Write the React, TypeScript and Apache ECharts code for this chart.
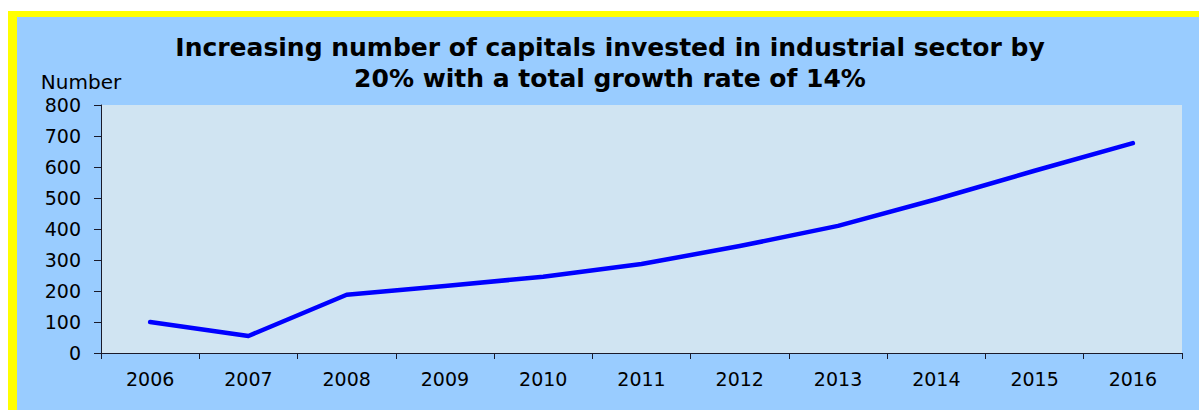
import React, { useEffect, useRef } from "react";
import * as echarts from "echarts";

const years = ["2006", "2007", "2008", "2009", "2010", "2011", "2012", "2013", "2014", "2015", "2016"];
const capitals = [100, 55, 188, 216, 246, 287, 345, 410, 496, 588, 677];
const titleLines = [
  "Increasing number of capitals invested in industrial sector by",
  "20% with a total growth rate of 14%",
];
const yAxisName = "Number";

export default function App() {
  const ref = useRef<HTMLDivElement>(null);
  useEffect(() => {
    if (!ref.current) return;
    const chart = echarts.init(ref.current, null, { renderer: "svg" });
    const axisFont = "DejaVu Sans";
    const titleStyle = { fontFamily: "DejaVu Sans", fontWeight: "bold", fontSize: 25, fill: "#000", align: "center", verticalAlign: "middle" };
    chart.setOption({
      animation: false,
      backgroundColor: "#ffffff",
      graphic: [
        { type: "rect", silent: true, z: -10, shape: { x: 8, y: 11, width: 1191, height: 399 }, style: { fill: "#FFFF00" } },
        { type: "rect", silent: true, z: -9, shape: { x: 17, y: 17, width: 1182, height: 393 }, style: { fill: "#99CCFF" } },
        { type: "text", x: 610, y: 47, style: { ...titleStyle, text: titleLines[0] } },
        { type: "text", x: 610, y: 78, style: { ...titleStyle, text: titleLines[1] } },
      ],
      grid: {
        left: 101, top: 105, right: 17, bottom: 57,
        show: true, backgroundColor: "#D0E4F2", borderWidth: 0,
      },
      xAxis: {
        type: "category",
        data: years,
        boundaryGap: true,
        axisLine: { show: true, lineStyle: { color: "#1a1a2a", width: 1 } },
        axisTick: { show: true, length: 6, lineStyle: { color: "#1a1a2a" } },
        axisLabel: { color: "#000", fontFamily: axisFont, fontSize: 19, margin: 16 },
        splitLine: { show: false },
      },
      yAxis: {
        type: "value",
        min: 0, max: 800, interval: 100,
        name: yAxisName,
        nameLocation: "end",
        nameGap: 23,
        nameTextStyle: { color: "#000", fontFamily: axisFont, fontSize: 20, align: "center", verticalAlign: "middle", padding: [0, 40, 0, 0] },
        axisLine: { show: true, lineStyle: { color: "#1a1a2a", width: 1 } },
        axisTick: { show: true, length: 7, lineStyle: { color: "#1a1a2a" } },
        axisLabel: { color: "#000", fontFamily: axisFont, fontSize: 19, margin: 20 },
        splitLine: { show: false },
      },
      series: [
        {
          type: "line",
          data: capitals,
          showSymbol: false,
          symbol: "none",
          lineStyle: { color: "#0000FF", width: 4.5, cap: "round", join: "round" },
        },
      ],
    });
    return () => chart.dispose();
  }, []);
  return <div ref={ref} style={{ position: "fixed", left: 0, top: 0, width: 1199, height: 410 }} />;
}
